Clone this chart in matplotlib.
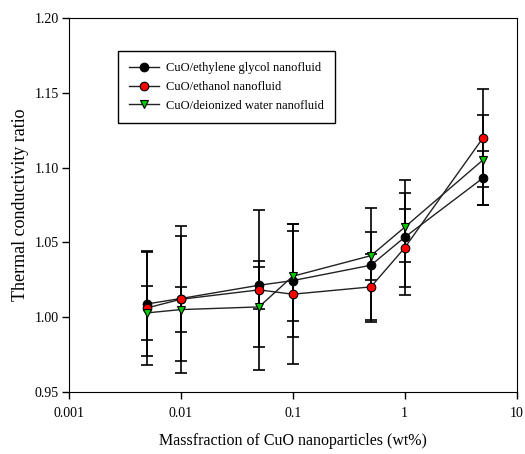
import numpy as np
import matplotlib.pyplot as plt

plt.rcParams['font.family'] = ['Liberation Serif', 'DejaVu Serif']

massfraction = [0.005, 0.01, 0.05, 0.1, 0.5, 1, 5]

eg_ratio = [1.0088, 1.0124, 1.0213, 1.0244, 1.0347, 1.0534, 1.0930]
eg_err = [0.035, 0.042, 0.016, 0.038, 0.038, 0.0385, 0.018]

ethanol_ratio = [1.0061, 1.0119, 1.0182, 1.0153, 1.0202, 1.0463, 1.1198]
ethanol_err = [0.038, 0.049, 0.0535, 0.047, 0.022, 0.026, 0.033]

water_ratio = [1.0028, 1.0050, 1.0068, 1.0273, 1.0411, 1.0601, 1.1051]
water_err = [0.018, 0.015, 0.027, 0.030, 0.016, 0.023, 0.030]

series = [
    ('CuO/ethylene glycol nanofluid', eg_ratio, eg_err, 'o', 'black'),
    ('CuO/ethanol nanofluid', ethanol_ratio, ethanol_err, 'o', 'red'),
    ('CuO/deionized water nanofluid', water_ratio, water_err, 'v', '#00cc00'),
]


def main():
    fig = plt.figure(figsize=(5.25, 4.54), dpi=100)
    ax = fig.add_axes([0.131, 0.137, 0.853, 0.823])

    for nombre, y, err, marca, color in series:
        ax.errorbar(massfraction, y, yerr=err, fmt='none', ecolor='black',
                    elinewidth=1.2, capsize=4.5, capthick=1.2, zorder=2)
    for nombre, y, err, marca, color in series:
        ax.plot(massfraction, y, '-', color='#222222', lw=1.0,
                marker=marca, markersize=6.2,
                markerfacecolor=color, markeredgecolor='black',
                markeredgewidth=0.8, label=nombre, zorder=3)

    ax.set_xscale('log')
    ax.set_xlim(0.001, 10)
    ax.set_ylim(0.95, 1.20)
    ax.set_xticks([0.001, 0.01, 0.1, 1, 10])
    ax.set_xticklabels(['0.001', '0.01', '0.1', '1', '10'])
    ax.minorticks_off()
    ax.set_yticks([0.95, 1.00, 1.05, 1.10, 1.15, 1.20])
    ax.set_yticklabels(['0.95', '1.00', '1.05', '1.10', '1.15', '1.20'])
    ax.tick_params(direction='out', length=5, labelsize=10, width=1)
    ax.tick_params(axis='x', pad=6)
    ax.tick_params(axis='y', pad=2)
    ax.tick_params(top=False, right=False)

    ax.set_xlabel('Massfraction of CuO nanoparticles (wt%)', fontsize=11.5, labelpad=9)
    ax.set_ylabel('Thermal conductivity ratio', fontsize=13, labelpad=4)

    leg = ax.legend(loc='upper left', bbox_to_anchor=(0.109, 0.9125),
                    borderaxespad=0, fancybox=False, edgecolor='black',
                    framealpha=1, fontsize=9, handlelength=2.4, borderpad=0.9,
                    labelspacing=0.55, handletextpad=0.6)
    leg.get_frame().set_linewidth(1.0)

    fig.savefig('out.png', dpi=100)


if __name__ == '__main__':
    main()
